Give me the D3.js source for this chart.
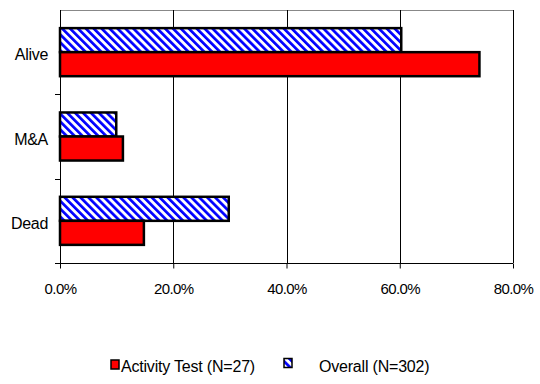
<!DOCTYPE html>
<html>
<head>
<meta charset="utf-8">
<script src="https://cdn.jsdelivr.net/npm/d3@7"></script>
<style>
  html, body { margin: 0; padding: 0; background: #fff; }
  svg { display: block; font-family: "Liberation Sans", Arial, sans-serif; }
</style>
</head>
<body>
<svg id="chart" width="540" height="384"></svg>
<script>
// Outcome categories, top to bottom
const categories = ["Alive", "M&A", "Dead"];
// Series names as shown in the legend
const seriesNames = ["Activity Test (N=27)", "Overall (N=302)"];
// Share of firms in each outcome (fractions)
const activityTest = [20 / 27, 3 / 27, 4 / 27];
const overall = [182 / 302, 30 / 302, 90 / 302];
// Value-axis tick labels
const tickValues = [0, 0.2, 0.4, 0.6, 0.8];

const svg = d3.select("#chart");

const margin = { left: 60, right: 27, top: 10, bottom: 121 };
const W = 540, H = 384;
const x0 = margin.left, x1 = W - margin.right;
const y0 = margin.top, y1 = H - margin.bottom;

const x = d3.scaleLinear().domain([0, 0.8]).range([x0, x1]);
const y = d3.scaleBand().domain(categories).range([y0, y1])
  .paddingInner(0.43).paddingOuter(0.215);
// Overall bar sits above the Activity Test bar within each group
const inner = d3.scaleBand().domain(["overall", "activity"]).range([0, y.bandwidth()]);

// Hatched fill for the Overall series
const defs = svg.append("defs");
const pat = defs.append("pattern")
  .attr("id", "hatch")
  .attr("patternUnits", "userSpaceOnUse")
  .attr("width", 5.6).attr("height", 5.6)
  .attr("patternTransform", "rotate(-45)");
pat.append("rect").attr("width", 5.6).attr("height", 5.6).attr("fill", "#fff");
pat.append("rect").attr("width", 2.7).attr("height", 5.6).attr("fill", "#0000ff");

// Plot frame: grey top edge
svg.append("line")
  .attr("x1", x0).attr("x2", x1).attr("y1", y0 + 0.5).attr("y2", y0 + 0.5)
  .attr("stroke", "#888").attr("stroke-width", 1);

// Vertical gridlines
svg.append("g").selectAll("line")
  .data(tickValues.slice(1))
  .join("line")
  .attr("x1", d => Math.round(x(d)) + 0.5).attr("x2", d => Math.round(x(d)) + 0.5)
  .attr("y1", y0).attr("y2", y1)
  .attr("stroke", "#000").attr("stroke-width", 1);

// Bars
const rows = categories.map((c, i) => ({ cat: c, overall: overall[i], activity: activityTest[i] }));
const g = svg.append("g");
g.selectAll("rect.overall")
  .data(rows)
  .join("rect")
  .attr("class", "overall")
  .attr("x", x(0))
  .attr("y", d => y(d.cat) + inner("overall"))
  .attr("width", d => x(d.overall) - x(0))
  .attr("height", inner.bandwidth())
  .attr("fill", "url(#hatch)")
  .attr("stroke", "#000").attr("stroke-width", 2.5);
g.selectAll("rect.activity")
  .data(rows)
  .join("rect")
  .attr("class", "activity")
  .attr("x", x(0))
  .attr("y", d => y(d.cat) + inner("activity"))
  .attr("width", d => x(d.activity) - x(0))
  .attr("height", inner.bandwidth())
  .attr("fill", "#ff0000")
  .attr("stroke", "#000").attr("stroke-width", 2.5);

// Value axis
const xAxis = d3.axisBottom(x)
  .tickValues(tickValues)
  .tickFormat(d3.format(".1%"))
  .tickSize(5)
  .tickSizeOuter(0);
const gx = svg.append("g").attr("transform", `translate(0,${y1 + 0.5})`).call(xAxis);
gx.select(".domain").attr("d", `M${x0 - 5},0H${x1}`);
gx.selectAll("line").attr("stroke", "#000");
gx.selectAll("text")
  .attr("y", 20)
  .attr("fill", "#000")
  .style("font-size", "15px")
  .style("letter-spacing", "-0.6px");

// Category axis with ticks between groups
const yAxisLine = svg.append("g");
yAxisLine.append("line")
  .attr("x1", x0 + 0.5).attr("x2", x0 + 0.5).attr("y1", y0).attr("y2", y1)
  .attr("stroke", "#000");
const tickYs = categories.slice(1).map(c => y(c) - (y.step() - y.bandwidth()) / 2);
yAxisLine.selectAll("line.tick")
  .data(tickYs)
  .join("line")
  .attr("class", "tick")
  .attr("x1", x0 - 5).attr("x2", x0)
  .attr("y1", d => Math.round(d) + 0.5).attr("y2", d => Math.round(d) + 0.5)
  .attr("stroke", "#000");
yAxisLine.selectAll("text")
  .data(categories)
  .join("text")
  .attr("x", x0 - 12)
  .attr("y", d => y(d) + y.bandwidth() / 2)
  .attr("dy", "0.5em")
  .attr("text-anchor", "end")
  .style("font-size", "16px")
  .style("letter-spacing", "-0.3px")
  .text(d => d);

// Legend
const legend = svg.append("g");
const legendItems = [
  { name: seriesNames[0], fill: "#ff0000", mx: 111, tx: 121 },
  { name: seriesNames[1], fill: "url(#hatch)", mx: 284, tx: 319 }
];
const ly = 366;
legend.selectAll("rect")
  .data(legendItems)
  .join("rect")
  .attr("x", d => d.mx)
  .attr("y", (d, i) => ly - 6 - i * 1.5)
  .attr("width", 8).attr("height", 9)
  .attr("fill", d => d.fill)
  .attr("stroke", "#000").attr("stroke-width", 1.5);
legend.selectAll("text")
  .data(legendItems)
  .join("text")
  .attr("x", d => d.tx)
  .attr("y", ly)
  .attr("dy", "0.4em")
  .style("font-size", "16px")
  .style("letter-spacing", "-0.2px")
  .text(d => d.name);
</script>
</body>
</html>
